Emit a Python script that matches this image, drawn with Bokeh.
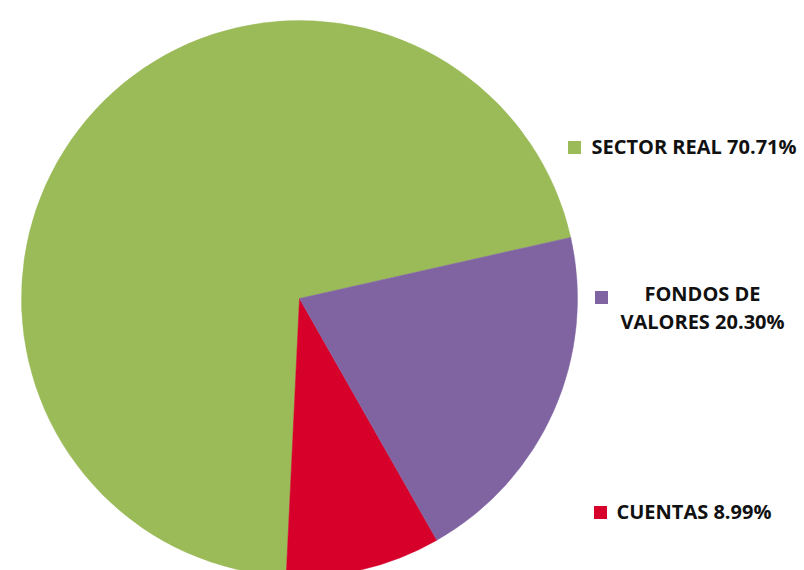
import math
from bokeh.plotting import figure
from bokeh.models import Range1d, ColumnDataSource
from bokeh.core.properties import value
from bokeh.embed import file_html
from bokeh.resources import INLINE

# ---- data ----
categories = ["SECTOR REAL", "CUENTAS", "FONDOS DE\nVALORES"]
shares = [70.71, 8.99, 20.30]
colors = ["#9BBB59", "#D6002A", "#8064A2"]

# ---- layout ----
W, H = 804, 570
start_deg = 12.7
cx, cy, r = 299, 272, 278

p = figure(width=W, height=H, output_backend="svg", toolbar_location=None,
           x_range=Range1d(0, W), y_range=Range1d(0, H),
           min_border=0)
p.axis.visible = False
p.grid.visible = False
p.outline_line_color = None
p.background_fill_color = "white"
p.border_fill_color = "white"

total = sum(shares)
starts, ends = [], []
a = math.radians(start_deg)
for s in shares:
    starts.append(a)
    a += s / total * 2 * math.pi
    ends.append(a)

src = ColumnDataSource(dict(start=starts, end=ends, color=colors,
                            x=[cx] * 3, y=[cy] * 3))
p.wedge(x="x", y="y", radius=r, start_angle="start", end_angle="end",
        fill_color="color", line_color="color", line_width=0.5, source=src)

labels = [f"{c} {v:.2f}%" for c, v in zip(categories, shares)]
font = value("Open Sans")

# legend-like annotations
mk_x = [574, 600, 601]
mk_y = [423, 58, 273]
p.scatter(mk_x, mk_y, marker="square", size=13, fill_color=colors, line_color=None)

fs = "20px"
# SECTOR REAL (left aligned)
p.text([591], [424], text=[labels[0]], text_font=font, text_font_style="bold",
       text_font_size=fs, text_align="left", text_baseline="middle",
       text_color="#111111")
# CUENTAS (left aligned)
p.text([616], [59], text=[labels[1]], text_font=font, text_font_style="bold",
       text_font_size=fs, text_align="left", text_baseline="middle",
       text_color="#111111")
# FONDOS DE VALORES (centered two lines)
p.text([702], [263], text=[labels[2]], text_font=font, text_font_style="bold",
       text_font_size=fs, text_align="center", text_baseline="middle",
       text_line_height=1.05, text_color="#111111")

open("out.html", "w").write(file_html(p, INLINE))
